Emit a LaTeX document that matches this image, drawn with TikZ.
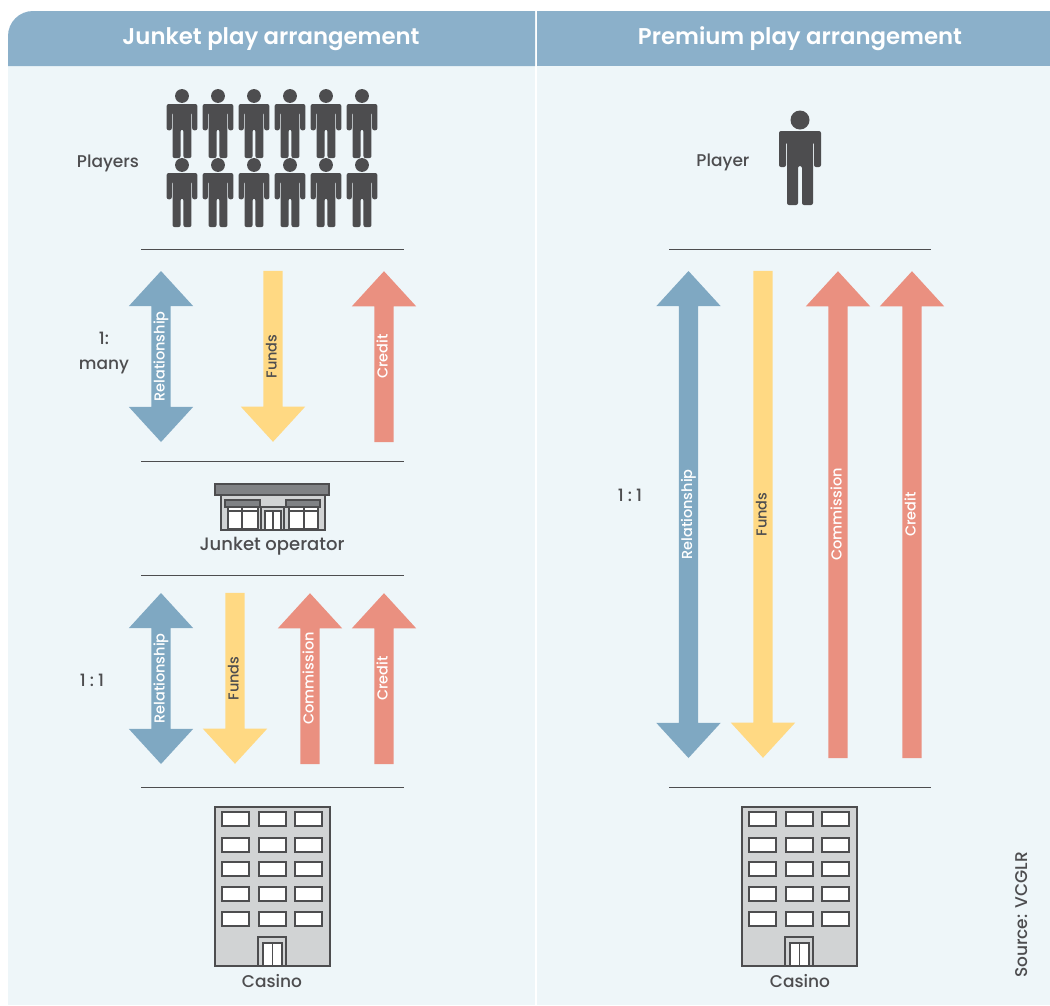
\documentclass[tikz,border=0pt]{standalone}
\usepackage{fontspec}
\setmainfont{Poppins}[UprightFont=* Medium, BoldFont=* SemiBold]
\usetikzlibrary{shapes.arrows}

\definecolor{headblue}{HTML}{8BB0CA}
\definecolor{panelblue}{HTML}{EEF6F9}
\definecolor{arrowblue}{HTML}{7FA8C2}
\definecolor{arrowyellow}{HTML}{FFD983}
\definecolor{arrowred}{HTML}{EA9080}
\definecolor{inkgrey}{HTML}{4D4D4F}
\definecolor{wallgrey}{HTML}{D1D3D4}
\definecolor{roofgrey}{HTML}{808285}

\tikzset{
	arrowtext/.style={inner sep=0pt, text height=13pt, text depth=6pt, rotate=90, font=\fontsize{14.5}{14.5}\selectfont},
	relarrow/.style={arrowtext, double arrow, fill=arrowblue, text=white, minimum height=#1, double arrow head extend=22.5pt, double arrow tip angle=85},
	fundsarrow/.style={yshift=5.5pt, arrowtext, single arrow, fill=arrowyellow, text=inkgrey, minimum height=#1, single arrow head extend=22.5pt, single arrow tip angle=85, shape border rotate=180, execute at end node=\kern11pt},
	creditarrow/.style={yshift=-5.5pt, arrowtext, single arrow, fill=arrowred, text=white, minimum height=#1, single arrow head extend=22.5pt, single arrow tip angle=85, execute at begin node=\kern11pt},
	rowlabel/.style={text=inkgrey, font=\fontsize{17}{17}\selectfont},
	headlabel/.style={text=white, text height=16pt, text depth=5pt, font=\fontsize{22.8}{22.8}\bfseries\selectfont},
	rulingline/.style={draw=inkgrey, line width=1pt},
	building/.style={draw=inkgrey, line width=1.2pt},
	person/.pic={
		\fill[inkgrey] (0,0) circle (9.5);
		\fill[inkgrey, rounded corners=2pt] (-21,11) -- (21,11) -- (21,47) -- (14,47) -- (14,22) -- (13,22) -- (13,85) -- (2,85) -- (2,46) -- (-2,46) -- (-2,85) -- (-13,85) -- (-13,22) -- (-14,22) -- (-14,47) -- (-21,47) -- cycle;
	},
	casino/.pic={
		\draw[building, fill=wallgrey] (0,0) rectangle (115,159);
		\foreach \wy in {5,31,55,80,105}
			\foreach \wx in {7,44,80}
				\draw[building, fill=white] (\wx,\wy) rectangle ++(27,14);
		\draw[building] (43,130) rectangle (71,159);
		\draw[building, fill=white] (48,136) rectangle (67,159);
		\draw[building] (57.5,136) -- (57.5,159);
	},
}

\begin{document}
\begin{tikzpicture}[x=1pt, y=-1pt]
	\useasboundingbox (0,0) rectangle (1050,1005);

	% panels
	\fill[panelblue] (8,66) rectangle (535,1005);
	\fill[panelblue] (537,66) rectangle (1050,1005);
	\fill[headblue] (8,66) [rounded corners=25pt] -- (8,11) [sharp corners] -- (535,11) -- (535,66) -- cycle;
	\fill[headblue] (537,11) rectangle (1050,66);
	\node (junkethead)[headlabel] at (271,39) {Junket play arrangement};
	\node (premiumhead)[headlabel] at (800,39) {Premium play arrangement};

	% players
	\node (playersleft)[rowlabel] at (108,163) {Players};
	\foreach \px in {182,218,254,290,326,362} {
		\pic[scale=.73] at (\px,96) {person};
		\pic[scale=.73] at (\px,165) {person};
	}
	\node (playerright)[rowlabel] at (723,162) {Player};
	\pic at (800,120) {person};

	% rules
	\draw[rulingline] (141,249) -- (404,249);
	\draw[rulingline] (141,461) -- (404,461);
	\draw[rulingline] (141,575) -- (404,575);
	\draw[rulingline] (141,787) -- (404,787);
	\draw[rulingline] (669,249) -- (931,249);
	\draw[rulingline] (669,787) -- (931,787);

	% players to operator
	\node (manylabel)[rowlabel, align=center] at (104,353) {1:\\[8pt]many};
	\node (relone)[relarrow=171pt] at (161,356.5) {Relationship};
	\node (fundsone)[fundsarrow=171pt] at (273,356.5) {Funds};
	\node (creditone)[creditarrow=171pt] at (384,356.5) {Credit};

	% operator
	\draw[building, fill=wallgrey] (221,495) rectangle (325,530);
	\draw[building, fill=roofgrey] (215,484) rectangle (329,495);
	\draw[building, fill=white] (228,507) rectangle (258,529);
	\draw[building, fill=white] (289,507) rectangle (318,529);
	\draw[building] (228,511) -- (258,511);
	\draw[building] (289,511) -- (318,511);
	\draw[building] (242,507) -- (242,529);
	\draw[building] (304,507) -- (304,529);
	\draw[building, fill=roofgrey] (225,500) rectangle (260,507);
	\draw[building, fill=roofgrey] (286,500) rectangle (320,507);
	\draw[building] (261,507) rectangle (284,530);
	\draw[building, fill=white] (265,511) rectangle (281,530);
	\draw[building] (273,511) -- (273,530);
	\node (operatorlabel)[rowlabel, font=\fontsize{18}{18}\selectfont] at (272,546) {Junket operator};

	% operator to casino
	\node (onelabel)[rowlabel] at (92,680) {1\kern4pt:\kern4pt1};
	\node (reltwo)[relarrow=171pt] at (161,678.5) {Relationship};
	\node (fundstwo)[fundsarrow=171pt] at (235,678.5) {Funds};
	\node (commtwo)[creditarrow=171pt] at (310,678.5) {Commission};
	\node (credittwo)[creditarrow=171pt] at (384,678.5) {Credit};

	% casino left
	\pic at (215,807) {casino};
	\node (casinoleft)[rowlabel] at (272,981) {Casino};

	% premium arrows
	\node (oneright)[rowlabel] at (630,495) {1\kern4pt:\kern4pt1};
	\node (relright)[relarrow=487pt] at (688.5,514.5) {Relationship};
	\node (fundsright)[fundsarrow=487pt] at (763,514.5) {Funds};
	\node (commright)[creditarrow=487pt] at (838,514.5) {Commission};
	\node (creditright)[creditarrow=487pt] at (912,514.5) {Credit};

	% casino right
	\pic at (742,807) {casino};
	\node (casinoright)[rowlabel] at (800,981) {Casino};

	\node (sourcelabel)[rowlabel, rotate=90] at (1022,915) {Source: VCGLR};
\end{tikzpicture}
\end{document}
